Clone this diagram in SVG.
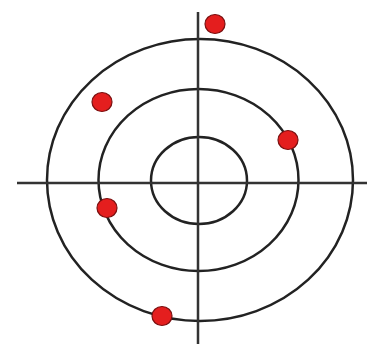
<svg xmlns="http://www.w3.org/2000/svg" width="367" height="344" viewBox="0 0 367 344">
<style>
.ring{fill:none;stroke:#222;stroke-width:2.5}
.axis{stroke:#333;stroke-width:2.5}
.dot{fill:#e41e1e;stroke:#7a1010;stroke-width:1.2}
</style>
<rect width="367" height="344" fill="#fff"/>
<g id="rings">
<ellipse id="outer" class="ring" cx="200" cy="180" rx="153" ry="141"/>
<ellipse id="middle" class="ring" cx="198.5" cy="180" rx="100" ry="91"/>
<ellipse id="inner" class="ring" cx="199" cy="180.5" rx="48" ry="43.5"/>
</g>
<g id="axes">
<line class="axis" x1="198" y1="12" x2="198" y2="344"/>
<line class="axis" x1="17" y1="183" x2="367" y2="183"/>
</g>
<g id="dots">
<ellipse class="dot" cx="215" cy="24" rx="10" ry="9.5"/>
<ellipse class="dot" cx="102" cy="102" rx="10" ry="9.5"/>
<ellipse class="dot" cx="288" cy="140" rx="10" ry="9.5"/>
<ellipse class="dot" cx="107" cy="208" rx="10" ry="9.5"/>
<ellipse class="dot" cx="162" cy="316" rx="10" ry="9.5"/>
</g>
</svg>
